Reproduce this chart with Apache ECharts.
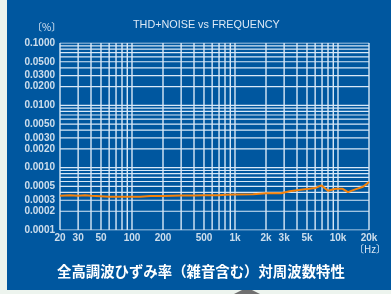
<!DOCTYPE html>
<html><head><meta charset="utf-8">
<script src="https://cdn.jsdelivr.net/npm/echarts@6/dist/echarts.min.js"></script>
<style>html,body{margin:0;padding:0;background:#edf4ee;overflow:hidden}#c{width:391px;height:294px}</style>
</head><body><div id="c"></div>
<script>
const freqs = [20, 25, 30, 35, 40, 50, 60, 70, 80, 100, 120, 150, 200, 300, 400, 500, 700, 800, 1000, 1500, 2000, 2800, 3400, 4000, 5000, 6000, 6900, 8000, 9500, 11000, 12500, 14500, 17500, 20000];
const thd = [0.000355, 0.00036, 0.000355, 0.00036, 0.000355, 0.000348, 0.000342, 0.00034, 0.000342, 0.00034, 0.000342, 0.00035, 0.000352, 0.000358, 0.000358, 0.00036, 0.000362, 0.000368, 0.000372, 0.000375, 0.00039, 0.00039, 0.00042, 0.000435, 0.000455, 0.00047, 0.00052, 0.000425, 0.00046, 0.00046, 0.000405, 0.000445, 0.000495, 0.00059];

const xTickValues = [20, 30, 50, 100, 200, 500, 1000, 2000, 3000, 5000, 10000, 20000];
const xTickLabels = ['20', '30', '50', '100', '200', '500', '1k', '2k', '3k', '5k', '10k', '20k'];
const yTickValues = [0.1, 0.05, 0.03, 0.02, 0.01, 0.005, 0.003, 0.002, 0.001, 0.0005, 0.0003, 0.0002, 0.0001];
const yTickLabels = ['0.1000', '0.0500', '0.0300', '0.0200', '0.0100', '0.0050', '0.0030', '0.0020', '0.0010', '0.0005', '0.0003', '0.0002', '0.0001'];
const xGridValues = [20, 30, 40, 50, 60, 70, 80, 90, 100, 200, 300, 400, 500, 600, 700, 800, 900, 1000, 2000, 3000, 4000, 5000, 6000, 7000, 8000, 9000, 10000, 20000];
const yGridValues = [0.0001, 0.0002, 0.0003, 0.0004, 0.0005, 0.0006, 0.0007, 0.0008, 0.0009, 0.001, 0.002, 0.003, 0.004, 0.005, 0.006, 0.007, 0.008, 0.009, 0.01, 0.02, 0.03, 0.04, 0.05, 0.06, 0.07, 0.08, 0.09, 0.1];

const titleText = 'THD+NOISE vs FREQUENCY';
const captionText = '全高調波ひずみ率（雑音含む）対周波数特性';

const X_MIN = 20, X_MAX = 20000, Y_MIN = 0.0001, Y_MAX = 0.1;
const BLUE = '#00579f';
const GRID = '#d8e8f7';
const LATIN = '"Liberation Sans", Arial, sans-serif';
const CJK = '"Noto Sans CJK JP", sans-serif';

const tickLabelStyle = { color: '#ffffff', fontSize: 10, fontWeight: 'bold', fontFamily: LATIN };

const gridSeries = [];
xGridValues.forEach(v => gridSeries.push({
  type: 'line', data: [[v, Y_MIN], [v, Y_MAX]], showSymbol: false, silent: true, z: 1,
  lineStyle: { color: GRID, width: 1.4 }
}));
yGridValues.forEach(v => gridSeries.push({
  type: 'line', data: [[X_MIN, v], [X_MAX, v]], showSymbol: false, silent: true, z: 1,
  lineStyle: { color: GRID, width: 1.2 }
}));

const chart = echarts.init(document.getElementById('c'), null, { renderer: 'canvas' });
chart.setOption({
  animation: false,
  backgroundColor: '#edf4ee',
  graphic: [
    { type: 'rect', z: -10, shape: { x: 7, y: 0, width: 384, height: 290 }, style: { fill: BLUE } },
    { type: 'polygon', z: -9, shape: { points: [[234, 294], [242, 290], [252, 290], [260, 294]] }, style: { fill: '#707070' } },
    { type: 'text', left: 133, top: 20, style: { text: titleText, fill: '#dce9f6', font: '10.8px ' + LATIN } },
    { type: 'text', left: 32, top: 22, style: { text: '〔%〕', fill: '#dce9f6', font: '10px ' + CJK } },
    { type: 'text', left: 354, top: 244, style: { text: '〔Hz〕', fill: '#dce9f6', font: '10px ' + CJK } },
    { type: 'text', left: 57, top: 264, style: { text: captionText, fill: '#ffffff', font: 'bold 14.4px ' + CJK } }
  ],
  grid: { left: 60, right: 22, top: 43, bottom: 64 },
  xAxis: {
    type: 'log', logBase: 10, min: X_MIN, max: X_MAX,
    axisLine: { show: false }, axisTick: { show: false }, axisLabel: { show: false }, splitLine: { show: false }
  },
  yAxis: {
    type: 'log', logBase: 10, min: Y_MIN, max: Y_MAX,
    axisLine: { show: false }, axisTick: { show: false }, axisLabel: { show: false }, splitLine: { show: false }
  },
  series: gridSeries.concat([
    {
      type: 'scatter', symbolSize: 0, silent: true, z: 3,
      data: xTickValues.map((v, i) => ({ value: [v, Y_MIN], name: xTickLabels[i] })),
      label: Object.assign({ show: true, position: 'bottom', distance: 3, formatter: p => p.name }, tickLabelStyle)
    },
    {
      type: 'scatter', symbolSize: 0, silent: true, z: 3,
      data: yTickValues.map((v, i) => ({ value: [X_MIN, v], name: yTickLabels[i] })),
      label: Object.assign({ show: true, position: 'left', distance: 5, formatter: p => p.name }, tickLabelStyle)
    },
    {
      type: 'line',
      data: freqs.map((f, i) => [f, thd[i]]),
      showSymbol: false,
      lineStyle: { color: '#f5820a', width: 2 },
      z: 5
    }
  ])
});
</script>
</body></html>
